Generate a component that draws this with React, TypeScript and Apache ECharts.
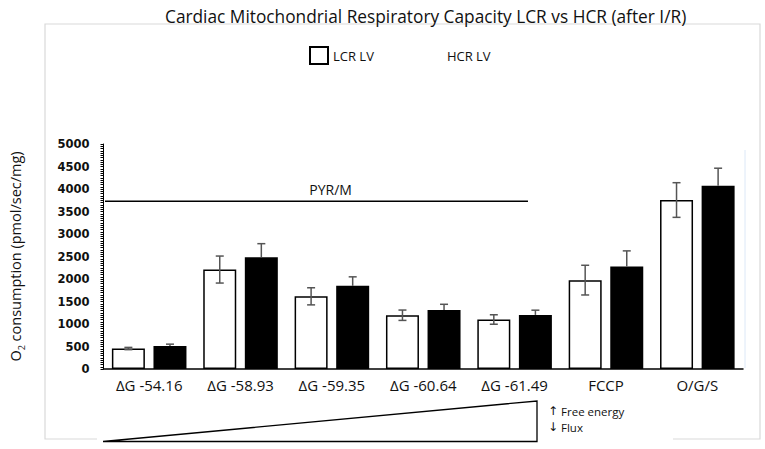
import React, { useEffect, useRef } from 'react';
import * as echarts from 'echarts';

const categories = ['ΔG -54.16', 'ΔG -58.93', 'ΔG -59.35', 'ΔG -60.64', 'ΔG -61.49', 'FCCP', 'O/G/S'];
const lcrValues = [455, 2210, 1615, 1195, 1100, 1975, 3755];
const hcrValues = [512, 2485, 1848, 1313, 1202, 2280, 4072];
const lcrErrors = [25, 300, 190, 115, 105, 330, 385];
const hcrErrors = [40, 300, 200, 125, 105, 345, 390];
const yMin = 0;
const yMax = 5000;
const yInterval = 500;
const pyrLevel = 3730;
const pyrLabel = 'PYR/M';
const seriesNames = ['LCR LV', 'HCR LV'];

const FONT = 'Open Sans';
const BAR_W = 33;
const BAR_GAP = 0.26;

export default function App() {
  const ref = useRef<HTMLDivElement>(null);
  useEffect(() => {
    document.body.style.margin = '0';
    const chart = echarts.init(ref.current!, null, { renderer: 'svg' });
    const offset = (BAR_W + BAR_W * BAR_GAP) / 2;

    const errSeries = (vals: number[], errs: number[], dir: number, both: boolean) => ({
      type: 'custom',
      z: 5,
      silent: true,
      data: vals.map((v, i) => [i, v, errs[i]]),
      renderItem: (params: any, api: any) => {
        const i = api.value(0);
        const v = api.value(1);
        const e = api.value(2);
        const top = api.coord([i, v + e]);
        const bot = api.coord([i, both ? v - e : v]);
        const x = top[0] + dir * offset;
        const cap = 4;
        const style = { stroke: '#555', lineWidth: 1.5 };
        const children: any[] = [
          { type: 'line', shape: { x1: x, y1: top[1], x2: x, y2: bot[1] }, style },
          { type: 'line', shape: { x1: x - cap, y1: top[1], x2: x + cap, y2: top[1] }, style },
        ];
        if (both) {
          children.push({ type: 'line', shape: { x1: x - cap, y1: bot[1], x2: x + cap, y2: bot[1] }, style });
        }
        return { type: 'group', children };
      },
    });

    chart.setOption({
      animation: false,
      title: {
        text: 'Cardiac Mitochondrial Respiratory Capacity LCR vs HCR (after I/R)',
        left: 160,
        top: 3,
        textStyle: { fontFamily: FONT, fontSize: 17.3, fontWeight: 'normal', color: '#111' },
      },
      legend: {
        left: 309,
        top: 46,
        padding: 0,
        icon: 'rect',
        itemWidth: 18,
        itemHeight: 17,
        itemGap: 50,
        textStyle: { fontFamily: FONT, fontSize: 13, color: '#111' },
        data: [
          { name: seriesNames[0] },
          { name: seriesNames[1], itemStyle: { opacity: 0 } },
        ],
      },
      grid: { left: 102, right: 22, top: 144, bottom: 80 },
      xAxis: {
        type: 'category',
        data: categories,
        axisLine: { lineStyle: { color: '#000', width: 1.5 } },
        axisTick: { show: false },
        axisLabel: { fontFamily: FONT, fontSize: 15, color: '#111', margin: 8, interval: 0 },
      },
      yAxis: {
        type: 'value',
        min: yMin,
        max: yMax,
        interval: yInterval,
        name: '{a|O}{s|2}{a| consumption (pmol/sec/mg)}',
        nameLocation: 'middle',
        nameRotate: 90,
        nameGap: 78,
        nameTextStyle: {
          rich: {
            a: { fontFamily: FONT, fontSize: 14.5, color: '#111', lineHeight: 20 },
            s: { fontFamily: FONT, fontSize: 9, color: '#111', lineHeight: 10, verticalAlign: 'bottom' },
          },
        },
        axisLine: { show: true, lineStyle: { color: '#000', width: 1 } },
        axisTick: { show: true, length: 3, lineStyle: { color: '#000' } },
        minorTick: { show: true, splitNumber: 10, length: 3, lineStyle: { color: '#000' } },
        splitLine: { show: false },
        axisLabel: {
          fontFamily: 'DejaVu Sans',
          fontWeight: 'bold',
          fontSize: 11.5,
          color: '#111',
          margin: 14,
          formatter: (v: number) => String(v),
        },
      },
      series: [
        {
          name: seriesNames[0],
          type: 'bar',
          data: lcrValues,
          barWidth: BAR_W,
          barGap: BAR_GAP * 100 + '%',
          itemStyle: { color: '#fff', borderColor: '#000', borderWidth: 1.5 },
        },
        {
          name: seriesNames[1],
          type: 'bar',
          data: hcrValues,
          barWidth: BAR_W,
          barGap: BAR_GAP * 100 + '%',
          itemStyle: { color: '#000' },
        },
        errSeries(lcrValues, lcrErrors, -1, true),
        errSeries(hcrValues, hcrErrors, 1, false),
        {
          type: 'custom',
          silent: true,
          z: 6,
          data: [[0, pyrLevel]],
          renderItem: (params: any, api: any) => {
            const p = api.coord([api.value(0), api.value(1)]);
            const band = api.size([1, 0])[0];
            const x0 = p[0] - band / 2 + 1.5;
            const x1 = x0 + band * 4.63;
            return {
              type: 'group',
              children: [
                { type: 'line', shape: { x1: x0, y1: p[1], x2: x1, y2: p[1] }, style: { stroke: '#000', lineWidth: 1.5 } },
                {
                  type: 'text',
                  x: x0 + band * 2.47,
                  y: p[1] - 12,
                  style: { text: pyrLabel, fontFamily: FONT, fontSize: 14, fill: '#111', align: 'center', verticalAlign: 'middle' },
                },
              ],
            };
          },
        },
      ],
      graphic: [
        {
          type: 'polyline',
          silent: true,
          shape: { points: [[97, 439], [45, 439], [45, 24], [760, 24], [760, 439], [673, 439]] },
          style: { stroke: '#d9d9d9', lineWidth: 1.2, fill: 'none' },
        },
        {
          type: 'line',
          silent: true,
          shape: { x1: 745, y1: 150, x2: 745, y2: 368 },
          style: { stroke: '#dce8f7', lineWidth: 1 },
        },
        {
          type: 'polygon',
          silent: true,
          shape: { points: [[103, 441.5], [537, 401], [537, 441.5]] },
          style: { stroke: '#000', lineWidth: 1.3, fill: '#fff' },
        },
        {
          type: 'text',
          left: 548,
          top: 405,
          style: {
            text: '{ar|↑} Free energy',
            rich: {
              ar: { fontFamily: 'DejaVu Sans', fontSize: 12, fill: '#111' },
            },
            fontFamily: FONT,
            fontSize: 11.5,
            fill: '#111',
          },
        },
        {
          type: 'text',
          left: 548,
          top: 421,
          style: {
            text: '{ar|↓} Flux',
            rich: {
              ar: { fontFamily: 'DejaVu Sans', fontSize: 12, fill: '#111' },
            },
            fontFamily: FONT,
            fontSize: 11.5,
            fill: '#111',
          },
        },
      ],
    });
    return () => chart.dispose();
  }, []);
  return <div ref={ref} style={{ width: 765, height: 449 }} />;
}
